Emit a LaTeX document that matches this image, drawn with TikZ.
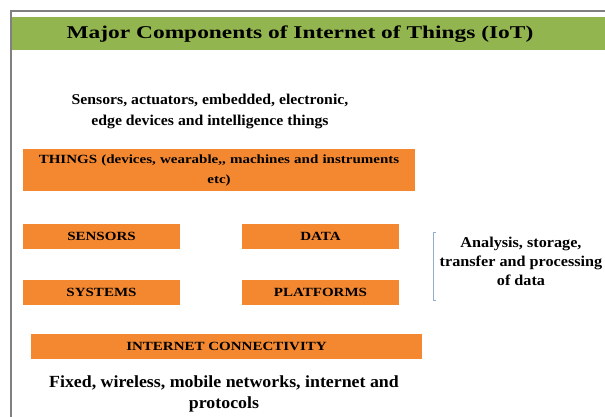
\documentclass[tikz,border=0pt]{standalone}
\usepackage{fontspec}
\setmainfont{Liberation Serif}
\newfontfamily\titlefont{Liberation Serif}[FakeStretch=1.3]
\newfontfamily\blockfont{Liberation Serif}[FakeStretch=1.2]
\newfontfamily\notefont{Liberation Serif}[FakeStretch=1.05]
\newfontfamily\sidefont{Liberation Serif}[FakeStretch=1.08]
\definecolor{iotgreen}{RGB}{146,181,80}
\definecolor{iotorange}{RGB}{244,136,48}
\definecolor{framegray}{RGB}{128,128,128}
\definecolor{bracketblue}{RGB}{150,172,205}
\usetikzlibrary{positioning}
\tikzstyle{block} = [rectangle, fill=iotorange, inner sep=0pt, minimum height=25pt, font=\blockfont\bfseries\fontsize{12.5}{20}\selectfont]
\tikzstyle{note} = [align=center, inner sep=0pt, font=\notefont\bfseries\fontsize{15}{21}\selectfont]
\tikzstyle{heading} = [inner sep=0pt, font=\titlefont\bfseries\fontsize{18}{20}\selectfont]

\begin{document}
\begin{tikzpicture}[x=1pt, y=-1pt]
      \useasboundingbox (0,0) rectangle (605,417);

      % Frame and title band
      \draw[framegray, line width=1.5pt] (605,11) -- (11,11) -- (11,417);
      \fill[iotgreen] (12,17) rectangle (605,50);
      \node[heading] (title) at (300,34) {Major Components of Internet of Things (IoT)};

      % Things
      \node[note] (things_note) at (210,111) {Sensors, actuators, embedded, electronic,\\ edge devices and intelligence things};
      \node[block, minimum width=392pt, minimum height=42pt, text width=385pt, align=center] (things) at (219,170) {THINGS (devices, wearable,, machines  and instruments\\etc)};

      % Middle blocks
      \node[block, minimum width=157pt] (sensors) at (101.5,236.5) {SENSORS};
      \node[block, minimum width=157pt] (data) at (320.5,236.5) {DATA};
      \node[block, minimum width=157pt] (systems) at (101.5,292) {SYSTEMS};
      \node[block, minimum width=157pt] (platforms) at (320.5,292) {PLATFORMS};

      % Bracket and note
      \coordinate (btop) at (436,232);
      \coordinate (bbot) at (436,300);
      \draw[bracketblue, line width=1pt] (btop) -- ++(-3,0) -- ([xshift=-3pt]bbot) -- (bbot);
      \node[note, font=\sidefont\bfseries\fontsize{15}{19}\selectfont] (analysis) at (521,261) {Analysis, storage,\\transfer and processing\\of data};

      % Connectivity
      \node[block, minimum width=391pt] (internet) at (226.5,346.5) {INTERNET CONNECTIVITY};
      \node[note, font=\notefont\bfseries\fontsize{17}{21}\selectfont] (net_note) at (224,393.5) {Fixed, wireless, mobile networks, internet and\\protocols};
\end{tikzpicture}
\end{document}
